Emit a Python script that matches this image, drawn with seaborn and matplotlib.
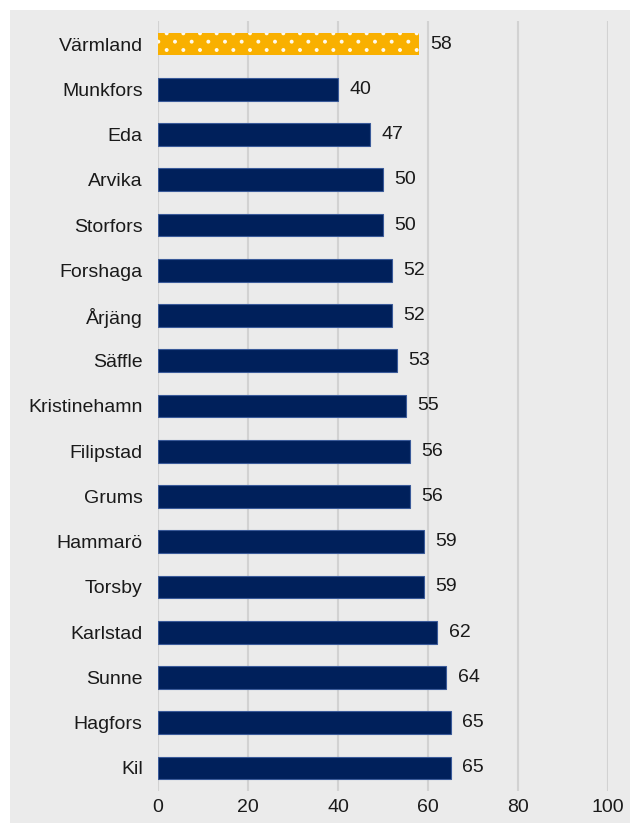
import matplotlib
matplotlib.use("Agg")
import numpy as np
import matplotlib.pyplot as plt
import matplotlib.hatch as mhatch
from matplotlib.path import Path
import seaborn as sns
import pandas as pd
from matplotlib.patches import Rectangle

kommuner = ["Värmland", "Munkfors", "Eda", "Arvika", "Storfors", "Forshaga",
            "Årjäng", "Säffle", "Kristinehamn", "Filipstad", "Grums", "Hammarö",
            "Torsby", "Karlstad", "Sunne", "Hagfors", "Kil"]
andel = [58, 40, 47, 50, 50, 52, 52, 53, 55, 56, 56, 59, 59, 62, 64, 65, 65]
x_ticks = [0, 20, 40, 60, 80, 100]

GOLD = "#F9B000"
NAVY = "#00205B"
BG = "#EBEBEB"


class StaggeredDots(mhatch.Shapes):
    """Small filled dots, rows at half the column spacing, alternate rows shifted."""
    size = 0.075
    filled = True

    def __init__(self, hatch, density):
        self.num_rows = hatch.count('.') * density
        circle = Path.unit_circle()
        self.shape_vertices = circle.vertices
        self.shape_codes = circle.codes
        n = self.num_rows
        if n == 0:
            self.num_shapes = 0
            self.num_vertices = 0
        else:
            self.num_shapes = (n + 1) * (n + 1) + n * n
            self.num_vertices = self.num_shapes * len(self.shape_vertices)

    def set_vertices_and_codes(self, vertices, codes):
        n = self.num_rows
        offset = 1.0 / n
        shape_vertices = self.shape_vertices * offset * self.size
        v_parts, c_parts = [], []
        for row in range(2 * n + 1):
            if row % 2 == 0:
                cols = np.linspace(0, 1, n + 1)
            else:
                cols = np.linspace(offset / 2, 1 - offset / 2, n)
            row_pos = row * offset / 2
            for col_pos in cols:
                v_parts.append(shape_vertices + [col_pos, row_pos])
                c_parts.append(self.shape_codes)
        vertices[:] = np.concatenate(v_parts)
        codes[:] = np.concatenate(c_parts)


mhatch._hatch_types = [StaggeredDots if t is mhatch.SmallFilledCircles else t
                       for t in mhatch._hatch_types]

sns.set_theme(style="white")
plt.rcParams["font.family"] = ["Liberation Sans", "DejaVu Sans"]

df = pd.DataFrame({"kommun": kommuner, "andel": andel})
palette = {k: (GOLD if i == 0 else NAVY) for i, k in enumerate(kommuner)}

fig = plt.figure(figsize=(6.3, 8.23), dpi=100)
fig.patch.set_facecolor("white")
# grey panel behind the chart
fig.add_artist(Rectangle((10 / 630, 0), 1 - 10 / 630, 1 - 10 / 823,
                         transform=fig.transFigure, facecolor=BG,
                         edgecolor="none", zorder=-10))

ax = fig.add_axes([158 / 630, 1 - 790.6 / 823, 450 / 630, (790.6 - 21.4) / 823])
ax.set_facecolor(BG)

sns.barplot(data=df, y="kommun", x="andel", hue="kommun", palette=palette,
            order=kommuner, hue_order=kommuner, legend=False, width=0.5,
            orient="h", ax=ax, saturation=1, zorder=3)

for i, p in enumerate(ax.patches):
    if i == 0:
        p.set_edgecolor("#FFFBEF")
        p.set_linewidth(0)
        p.set_hatch(".")
    else:
        p.set_edgecolor("#3A5A99")
        p.set_linewidth(0.8)

for i, v in enumerate(andel):
    ax.text(v + 2.6, i, f"{v}", va="center", ha="left", fontsize=14,
            color="#1a1a1a")

ax.set_xlim(0, 100)
ax.set_xticks(x_ticks)
ax.set_xticklabels([str(t) for t in x_ticks])
ax.grid(axis="x", color="#D2D2D2", linewidth=1.5, zorder=0)
ax.grid(axis="y", visible=False)
ax.set_axisbelow(True)
for s in ax.spines.values():
    s.set_visible(False)
ax.tick_params(axis="both", length=0, labelsize=14, colors="#1a1a1a")
ax.tick_params(axis="y", pad=11)
ax.tick_params(axis="x", pad=6)
ax.set_xlabel("")
ax.set_ylabel("")

fig.savefig("out.png", dpi=100, facecolor=fig.get_facecolor())
